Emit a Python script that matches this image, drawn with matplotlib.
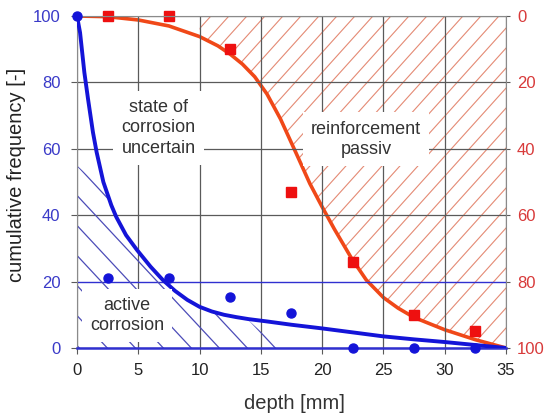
import numpy as np
import matplotlib
matplotlib.use("Agg")
import matplotlib.pyplot as plt

plt.rcParams['font.family'] = ['Liberation Sans', 'DejaVu Sans']

# blue: cumulative frequency, active corrosion (left axis)
blue_curve_x = [0, 0.25, 0.6, 0.9, 1.3, 1.6, 2.15, 2.8, 3.2, 4.0, 4.9, 6.0, 7.0, 8.0,
                9.0, 10, 11, 12, 13, 14, 15.5, 17.5, 20, 22.5, 25, 27.5, 30, 32.5, 35]
blue_curve_y = [100, 95, 83, 75, 65, 59, 50, 43, 39.5, 34, 29.5, 24.5, 20.5, 17.2,
                14.5, 12.4, 11.0, 10.0, 9.3, 8.7, 8.0, 7.0, 5.9, 4.7, 3.5, 2.6, 1.8, 0.9, 0]
blue_pts_x = [0, 2.5, 7.5, 12.5, 17.5, 22.5, 27.5, 32.5]
blue_pts_y = [100, 21, 21, 15.5, 10.5, 0, 0, 0]

# red: reinforcement passiv (right axis, inverted)
red_curve_x = [0, 2.5, 5, 7.5, 10, 11.5, 12.5, 13.5, 14.5, 15.5, 16.6, 17.9, 19, 20,
               21, 22.4, 23.6, 25, 26.2, 27.5, 30, 32.5, 35]
red_curve_y = [0, 0.2, 1.2, 3, 6.2, 9, 11.5, 14.5, 18.3, 23.5, 31, 41.5, 50.5, 57.5,
               64.2, 73, 79.5, 84.8, 88, 90.8, 94.5, 97.5, 100]
red_pts_x = [2.5, 7.5, 12.5, 17.5, 22.5, 27.5, 32.5]
red_pts_y = [0, 0, 10, 53, 74, 90, 95]

x_ticks = [0, 5, 10, 15, 20, 25, 30, 35]
y_ticks = [0, 20, 40, 60, 80, 100]

BLUE = '#1414d8'
RED = '#f04818'
GRID = '#5a5a5a'


def hatch(ax, region, anchor, step, angle, color, lw=0.8):
    # parallel lines in pixel space, clipped to the region polygon
    bb = ax.get_window_extent()
    w, h = bb.width, bb.height
    fx, fy = ax.transAxes.inverted().transform(ax.transData.transform(anchor))
    px, py = fx * w, fy * h
    t = np.tan(np.radians(angle))
    span = w + h
    path = region.get_paths()[0]
    for k in range(-80, 81):
        x0 = px + k * step
        xs = np.array([x0 - span, x0 + span])
        ys = py + (xs - x0) * t
        ln, = ax.plot(xs / w, ys / h, transform=ax.transAxes, color=color, lw=lw)
        ln.set_clip_path(path, ax.transData)


fig = plt.figure(figsize=(5.45, 4.16), dpi=100)
ax = fig.add_axes([77 / 545, 68 / 416, 429 / 545, 332 / 416])
ax2 = ax.twinx()
ax.set_zorder(ax2.get_zorder() + 1)
ax.patch.set_visible(False)

ax.set_xlim(0, 35)
ax.set_ylim(0, 100)
ax2.set_ylim(100, 0)

# red side
ax2.plot(red_curve_x, red_curve_y, color=RED, lw=2.6, zorder=3,
         solid_joinstyle='round')
ax2.plot(red_pts_x, red_pts_y, 's', color='#ee1010', ms=7, clip_on=False, zorder=4)
rx = np.array(red_curve_x)
ry = np.array(red_curve_y)
keep = rx >= 10
red_region = ax2.fill_between(rx[keep], 0, ry[keep], facecolor='none', edgecolor='none')
hatch(ax2, red_region, (35, 100), 18, 48, '#e48a74')

# blue side
bx = np.linspace(0, 16.5, 200)
bound = np.minimum(np.interp(bx, blue_curve_x, blue_curve_y), 55 * (1 - bx / 16.5))
blue_region = ax.fill_between(bx, 0, bound, facecolor='none', edgecolor='none')
hatch(ax, blue_region, (0, 55), 28, -47, '#4c4cb8', lw=0.9)

ax.plot(blue_curve_x, blue_curve_y, color=BLUE, lw=2.8, zorder=3,
        solid_joinstyle='round')
ax.plot(blue_pts_x, blue_pts_y, 'o', color=BLUE, ms=6.5, clip_on=False, zorder=6)

# grid and axes
ax.set_xticks(x_ticks)
ax.set_yticks(y_ticks)
ax2.set_yticks(y_ticks)
ax.grid(True, color=GRID, lw=0.9)
ax.get_ygridlines()[1].set_color('#3030d0')
ax.get_ygridlines()[1].set_linewidth(1.0)

for s in ['left', 'right', 'top']:
    ax.spines[s].set_color('#8a8a8a')
ax.spines['bottom'].set_color('#3030d0')
ax.spines['bottom'].set_linewidth(1.8)
for s in ax2.spines.values():
    s.set_visible(False)

ax.tick_params(axis='x', colors=GRID, labelcolor='#222222', labelsize=12,
               length=4, pad=7)
ax.tick_params(axis='y', colors=GRID, labelcolor='#3a3ac8', labelsize=12,
               length=4, pad=8)
ax2.tick_params(axis='y', colors=GRID, labelcolor='#d83a3a', labelsize=12,
                length=3, pad=5)

ax.set_xlabel('depth [mm]', fontsize=14.5, color='#333333')
ax.xaxis.set_label_coords(0.508, -0.14)
ax.set_ylabel('cumulative frequency [-]', fontsize=14.5, color='#222222')
ax.yaxis.set_label_coords(-0.118, 0.52)

box = dict(boxstyle='square,pad=0.45', fc='white', ec='none')
ax.text(6.65, 66.3, 'state of\ncorrosion\nuncertain', ha='center', va='center',
        fontsize=13, color='#333333', bbox=box, zorder=5, linespacing=1.25)
ax.text(23.6, 62.9, 'reinforcement\npassiv', ha='center', va='center',
        fontsize=13, color='#333333', bbox=box, zorder=5, linespacing=1.25)
ax.text(4.1, 9.8, 'active\ncorrosion', ha='center', va='center',
        fontsize=13, color='#333333', bbox=box, zorder=5, linespacing=1.25)

fig.savefig('out.png', dpi=100, facecolor='white')
